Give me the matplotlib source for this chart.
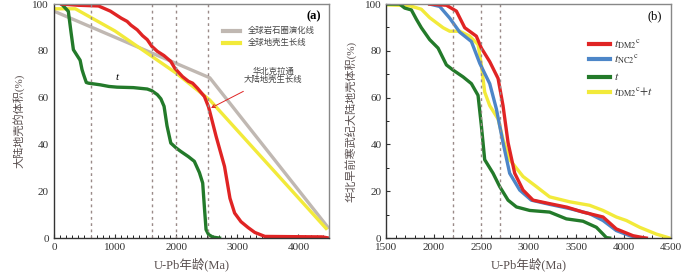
import matplotlib.pyplot as plt
import numpy as np
from matplotlib.ticker import MultipleLocator

plt.rcParams['font.family'] = ['Liberation Serif', 'Noto Sans CJK SC']
plt.rcParams['font.size'] = 8
plt.rcParams['mathtext.fontset'] = 'stix'

# panel (a)
lith_age = [0, 2550, 4500]
lith_vol = [97, 68.5, 4]

glob_age = [0, 350, 1000, 2000, 2550, 3000, 4470]
glob_vol = [98, 98, 88.5, 70.5, 59, 46, 3.6]

nc_age = [126, 400, 730, 923, 1100, 1198, 1260, 1363, 1450, 1527, 1600, 1692, 1800, 1912, 1980,
          2104, 2200, 2269, 2350, 2462, 2530, 2560, 2654, 2791, 2880, 2956, 3060, 3176, 3286,
          3451, 3900, 4385, 4500]
nc_vol = [100, 99.5, 99.2, 97, 94, 92.6, 91, 89, 86.5, 84.8, 82, 79.8, 78, 75.5, 72.5,
          69, 67, 66.2, 64, 60.5, 56, 53, 43.4, 30.6, 17, 10.7, 7, 4.5, 2.4,
          0.7, 0.6, 0.5, 0]

t_age = [126, 236, 280, 319, 380, 429, 460, 484, 530, 566, 758, 900, 1033, 1300, 1527, 1600,
         1692, 1750, 1802, 1850, 1912, 2000, 2077, 2200, 2297, 2380, 2434, 2465, 2489, 2530,
         2599, 2709]
t_vol = [100, 96.9, 88, 80.5, 78, 76, 72, 70, 66.5, 66.2, 65.5, 64.8, 64.5, 64.3, 63.7, 63,
         61.3, 59.5, 56.3, 48, 40.6, 38.5, 37, 34.8, 32.8, 28, 23.5, 12, 3.6, 1.5,
         0.4, 0]

# panel (b)
dm2_age = [1956, 2132, 2237, 2325, 2447, 2500, 2588, 2676, 2728, 2781, 2851, 2939, 3044, 3219,
           3400, 3570, 3781, 3921, 4097, 4202, 4237]
dm2_vol = [100, 99.5, 97, 89.9, 86.3, 81.2, 75.4, 68.2, 56.6, 40.8, 27.7, 20.5, 16.2, 14.7,
           13.2, 11.1, 9, 3.9, 1, 0.2, 0]

nc2_age = [1956, 2061, 2167, 2272, 2395, 2483, 2588, 2658, 2728, 2798, 2904, 3026, 3219, 3430,
           3640, 3781, 3921, 4062, 4167]
nc2_vol = [100, 99, 94, 88, 84, 74.7, 66, 55.2, 40.8, 27.7, 20.5, 16.2, 14.4, 12.6,
           10.4, 7.5, 3.2, 1, 0]

tb_age = [1500, 1640, 1693, 1763, 1816, 1868, 1956, 2044, 2132, 2202, 2307, 2395, 2465, 2500,
          2535, 2623, 2693, 2781, 2869, 3009, 3219, 3395, 3570, 3711, 3781, 3816, 3851]
tb_vol = [100, 100, 98.3, 97.5, 93.5, 89.9, 84.8, 81.2, 74, 71.8, 68.9, 66, 61, 48,
          33.5, 27.7, 22, 16.2, 13.3, 11.8, 11.1, 8.2, 7.2, 4.6, 1.7, 0.2, 0]

sum_age = [1500, 1746, 1868, 1956, 2097, 2167, 2272, 2377, 2465, 2500, 2535, 2588, 2676, 2728,
           2798, 2939, 3079, 3219, 3430, 3640, 3781, 3921, 4027, 4167, 4342, 4483]
sum_vol = [99.7, 99.3, 97.8, 94.2, 89.9, 88.4, 88.4, 86.3, 82.7, 74, 62.4, 56.6, 50.9, 42.2,
           33.5, 26.3, 22, 17.6, 15.5, 14, 11.8, 9, 7.5, 4.6, 1.7, 0]

vlines_a = [600, 1600, 2000, 2520]
vlines_b = [2200, 2500, 2700]

RED = '#e02424'
GREEN = '#237a2a'
YELLOW = '#f2ea3a'
GRAY = '#c0b8b2'
BLUE = '#4d86c8'
DASH = '#9a8a88'
LBL = '#5a5050'

fig = plt.figure(figsize=(7, 2.73), dpi=100)
ax1 = fig.add_axes([0.077, 0.128, 0.393, 0.857])
ax2 = fig.add_axes([0.552, 0.128, 0.407, 0.857])


def style(ax):
    for s in ['top', 'right']:
        ax.spines[s].set_color('#888888')
    for s in ['left', 'bottom']:
        ax.spines[s].set_color('#333333')
    for s in ax.spines.values():
        s.set_linewidth(1.0)
    ax.tick_params(direction='in', colors='#333333', labelsize=8, length=3)
    ax.tick_params(which='minor', direction='in', length=2)
    ax.xaxis.set_minor_locator(MultipleLocator(100))
    ax.set_ylim(0, 100)
    ax.set_yticks([0, 20, 40, 60, 80, 100])


lw = 2.4
ax1.plot(lith_age, lith_vol, color=GRAY, lw=lw, solid_capstyle='butt')
ax1.plot(glob_age, glob_vol, color=YELLOW, lw=lw, solid_capstyle='butt')
ax1.plot(t_age, t_vol, color=GREEN, lw=lw)
ax1.plot(nc_age, nc_vol, color=RED, lw=lw)
for v in vlines_a:
    ax1.axvline(v, color=DASH, ls=(0, (2, 2.5)), lw=1)
ax1.set_xlim(0, 4500)
ax1.set_xticks([0, 1000, 2000, 3000, 4000])
style(ax1)
ax1.tick_params(axis='y', length=0)
ax1.set_xlabel('U-Pb年龄(Ma)', color=LBL, fontsize=9, labelpad=4)
ax1.set_ylabel('大陆地壳的体积(%)', color=LBL, fontsize=8, labelpad=6)
ax1.text(4370, 95, '(a)', fontsize=9, fontweight='bold', ha='right', va='center')
ax1.plot([2760, 3037], [88.6, 88.6], color=GRAY, lw=3)
ax1.plot([2760, 3037], [83.3, 83.3], color=YELLOW, lw=3)
ax1.text(3175, 88.6, '全球岩石圈演化线', fontsize=6, va='center', color='#444444')
ax1.text(3175, 83.3, '全球地壳生长线', fontsize=6, va='center', color='#444444')
ax1.text(1030, 67.5, 't', fontsize=8, style='italic', ha='center')
ax1.annotate('华北克拉通\n大陆地壳生长线', xy=(2570, 55.6), xytext=(3590, 69.3),
             fontsize=6, ha='center', va='center', color='#444444', linespacing=1.0,
             arrowprops=dict(arrowstyle='->', color=RED, lw=0.7, shrinkA=7, shrinkB=0))

ax2.plot(sum_age, sum_vol, color=YELLOW, lw=lw)
ax2.plot(tb_age, tb_vol, color=GREEN, lw=lw)
ax2.plot(nc2_age, nc2_vol, color=BLUE, lw=lw)
ax2.plot(dm2_age, dm2_vol, color=RED, lw=lw)
for v in vlines_b:
    ax2.axvline(v, color=DASH, ls=(0, (2, 2.5)), lw=1)
ax2.set_xlim(1500, 4500)
ax2.set_xticks([1500, 2000, 2500, 3000, 3500, 4000, 4500])
style(ax2)
ax2.yaxis.set_minor_locator(MultipleLocator(10))
ax2.set_xlabel('U-Pb年龄(Ma)', color=LBL, fontsize=9, labelpad=4)
ax2.set_ylabel('华北早前寒武纪大陆地壳体积(%)', color=LBL, fontsize=8, labelpad=6)
ax2.text(4400, 95, '(b)', fontsize=9, ha='right', va='center')
leg_y = [83, 76.5, 69, 62.5]
leg_c = [RED, BLUE, GREEN, YELLOW]
leg_t = [r'$t_{\mathrm{DM2}}{}^{\mathrm{c}}$', r'$t_{\mathrm{NC2}}{}^{\mathrm{c}}$', r'$t$',
         r'$t_{\mathrm{DM2}}{}^{\mathrm{c}}{+}t$']
for yy, cc, tt in zip(leg_y, leg_c, leg_t):
    ax2.plot([3630, 3850], [yy, yy], color=cc, lw=3)
    ax2.text(3900, yy, tt, fontsize=8.5, va='center', color='#333333')

fig.savefig('out.png', dpi=100)
